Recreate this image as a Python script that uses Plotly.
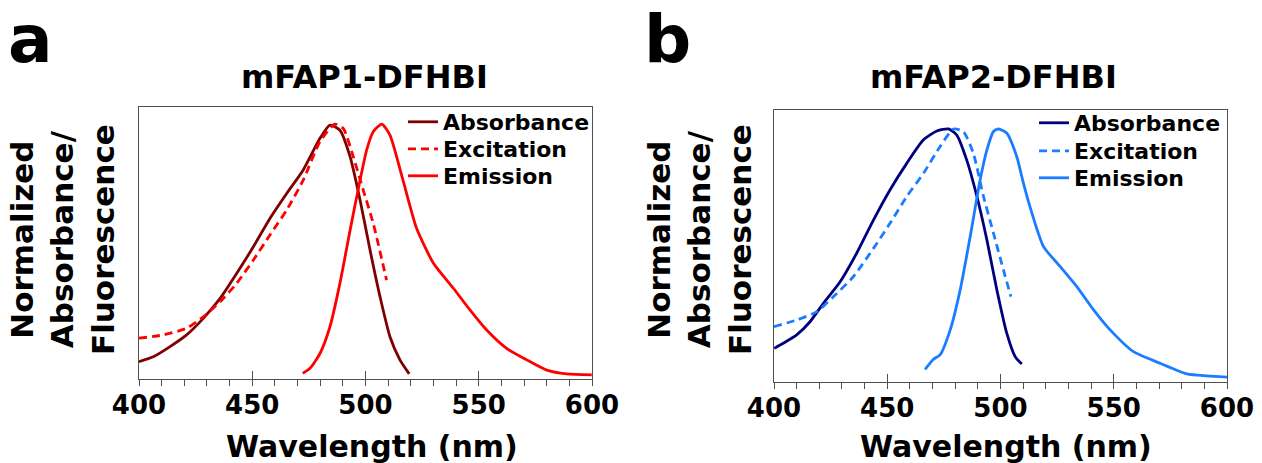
import plotly.graph_objects as go

# ---------------- data ----------------
a_abs_wl = [400, 406.3, 413.7, 421, 428.4, 435.8, 443.1, 450.5, 457.8, 465.2, 472.5, 479.9,
            484.3, 488.7, 493.2, 497.6, 502, 506.4, 510.8, 515.2, 519.3]
a_abs_val = [0.068, 0.087, 0.127, 0.173, 0.238, 0.316, 0.414, 0.519, 0.630, 0.728, 0.82, 0.944,
             0.996, 0.976, 0.872, 0.702, 0.506, 0.323, 0.166, 0.075, 0.02]

a_exc_wl = [400, 410.7, 421, 428.4, 435.8, 443.1, 450.5, 457.8, 465.2, 472.5, 479.9, 486.5,
            490.2, 494.6, 499, 503.4, 509.3]
a_exc_val = [0.16, 0.173, 0.199, 0.244, 0.303, 0.375, 0.467, 0.565, 0.663, 0.78, 0.931, 1.0,
             0.983, 0.872, 0.741, 0.611, 0.388]

a_emi_wl = [472.3, 475.5, 479.9, 484.3, 488.7, 493.2, 497.6, 500.5, 503.4, 507.2, 510.8, 516.7,
            522.6, 530, 538.8, 546.1, 553.5, 562.3, 571.2, 580, 588.8, 599.9]
a_emi_val = [0.022, 0.042, 0.1, 0.205, 0.375, 0.584, 0.78, 0.898, 0.97, 1.0, 0.957, 0.775,
             0.59, 0.454, 0.356, 0.271, 0.192, 0.12, 0.075, 0.035, 0.02, 0.016]

b_abs_wl = [400.1, 404.1, 410, 415.9, 421.8, 429.2, 436.5, 443.9, 451.2, 458.6, 466, 471.9,
            477, 480.7, 485.1, 489.6, 494, 498.4, 502.8, 506.5, 509.4]
b_abs_val = [0.133, 0.153, 0.186, 0.238, 0.311, 0.396, 0.509, 0.64, 0.759, 0.864, 0.957, 0.992,
             1.0, 0.976, 0.877, 0.733, 0.561, 0.364, 0.192, 0.1, 0.071]

b_exc_wl = [400, 410, 418.9, 426.2, 435, 443.9, 451.2, 458.6, 466, 473.3, 479.2, 483.6,
            488, 492.5, 496.9, 501.3, 504.6]
b_exc_val = [0.219, 0.245, 0.278, 0.337, 0.416, 0.528, 0.627, 0.733, 0.825, 0.93, 1.0, 0.99,
             0.904, 0.733, 0.588, 0.443, 0.337]

b_emi_wl = [466.7, 470.4, 473.3, 477.8, 482.2, 486.6, 491, 494, 496.9, 499.1, 502.8, 507.2,
            510, 513.1, 519, 526.4, 533.7, 541.1, 548.4, 558.7, 570.5, 582.3, 591.2, 600]
b_emi_val = [0.05, 0.09, 0.107, 0.206, 0.364, 0.574, 0.798, 0.917, 0.99, 1.0, 0.983, 0.89,
             0.79, 0.69, 0.535, 0.456, 0.377, 0.285, 0.206, 0.12, 0.074, 0.032, 0.024, 0.019]

series_names = ["Absorbance", "Excitation", "Emission"]
panel_titles = ["mFAP1-DFHBI", "mFAP2-DFHBI"]
panel_letters = ["a", "b"]
x_title = "Wavelength (nm)"
y_title = "Normalized<br>Absorbance/<br>Fluorescence"
minor_tickvals = list(range(400, 601, 10))
major_tickvals = [400, 450, 500, 550, 600]
tick_text = [str(v) if v in major_tickvals else "" for v in minor_tickvals]

# ---------------- styling ----------------
W, H = 1262, 463
FONT = "DejaVu Sans"
colors_a = ["#800000", "#FF0000", "#FF0000"]
colors_b = ["#00007F", "#1A7DFF", "#1A7DFF"]
LW = 2.8
DASH = "8px,5px"

def px_x(p):
    return p / W

def px_y(p):
    return 1 - p / H

dom_a_x = [px_x(139), px_x(592)]
dom_a_y = [px_y(379), px_y(107)]
dom_b_x = [px_x(774), px_x(1227)]
dom_b_y = [px_y(382), px_y(110)]

# one legend per entry so rows can be spaced like the reference
legend_rows_a = [122, 149, 176]
legend_rows_b = [123, 151, 178]
legend_left_a = 403
legend_left_b = 1034

fig = go.Figure()

def add_panel(wls, vals, colors, xa, ya, legend_ids):
    for i, (w, v) in enumerate(zip(wls, vals)):
        fig.add_trace(go.Scatter(
            x=w, y=v, mode="lines", name=series_names[i],
            line=dict(color=colors[i], width=LW, dash=DASH if i == 1 else "solid",
                      shape="spline", smoothing=0.6),
            xaxis=xa, yaxis=ya, legend=legend_ids[i], hoverinfo="skip"))

add_panel([a_abs_wl, a_exc_wl, a_emi_wl], [a_abs_val, a_exc_val, a_emi_val], colors_a, "x", "y",
          ["legend", "legend2", "legend3"])
add_panel([b_abs_wl, b_exc_wl, b_emi_wl], [b_abs_val, b_exc_val, b_emi_val], colors_b, "x2", "y2",
          ["legend4", "legend5", "legend6"])

# empty traces so the overlay tick axes are drawn
fig.add_trace(go.Scatter(x=[], y=[], xaxis="x3", yaxis="y", showlegend=False))
fig.add_trace(go.Scatter(x=[], y=[], xaxis="x4", yaxis="y2", showlegend=False))

frame = dict(showline=True, linecolor="#505050", linewidth=1, mirror=True,
             showgrid=False, zeroline=False, automargin=False)

xcommon = dict(range=[400, 600], tickmode="array", tickvals=minor_tickvals, ticktext=tick_text,
               ticks="outside", ticklen=6, tickwidth=1, tickcolor="#505050", ticklabelstandoff=-3,
               tickfont=dict(family=FONT, size=26, color="black", weight="bold"), **frame)
ycommon = dict(showticklabels=False, ticks="", **frame)

overlay = dict(range=[400, 600], tickmode="array", tickvals=major_tickvals, ticks="inside",
               ticklen=8, tickwidth=1, tickcolor="#505050", showticklabels=False,
               showline=False, showgrid=False, zeroline=False)

legend_common = dict(font=dict(family=FONT, size=22, color="black", weight="bold"),
                     bgcolor="rgba(0,0,0,0)", borderwidth=0, xanchor="left", yanchor="middle",
                     tracegroupgap=0, itemwidth=30)

legends = {}
for k, ry in enumerate(legend_rows_a):
    legends["legend" if k == 0 else f"legend{k + 1}"] = dict(x=px_x(legend_left_a), y=px_y(ry), **legend_common)
for k, ry in enumerate(legend_rows_b):
    legends[f"legend{k + 4}"] = dict(x=px_x(legend_left_b), y=px_y(ry), **legend_common)

fig.update_layout(
    width=W, height=H, margin=dict(l=0, r=0, t=0, b=0, autoexpand=False),
    paper_bgcolor="white", plot_bgcolor="white",
    xaxis=dict(domain=dom_a_x, anchor="y", **xcommon),
    yaxis=dict(domain=dom_a_y, anchor="x", range=[0, 1.067], **ycommon),
    xaxis2=dict(domain=dom_b_x, anchor="y2", **xcommon),
    yaxis2=dict(domain=dom_b_y, anchor="x2", range=[0, 1.075], **ycommon),
    xaxis3=dict(overlaying="x", anchor="y", **overlay),
    xaxis4=dict(overlaying="x2", anchor="y2", **overlay),
    showlegend=True,
    **legends,
)

ann_font = lambda s: dict(family=FONT, size=s, color="black", weight="bold")
annotations = []
for i, (cx, ycx, xtx, lx) in enumerate([(364.5, 62, 372, 30.5), (993.5, 699, 1006, 667)]):
    annotations.append(dict(text=panel_titles[i], x=px_x(cx), y=px_y(77), xref="paper", yref="paper",
                            showarrow=False, xanchor="center", yanchor="middle", font=ann_font(32)))
    annotations.append(dict(text=panel_letters[i], x=px_x(lx), y=px_y(40), xref="paper", yref="paper",
                            showarrow=False, xanchor="center", yanchor="middle", font=ann_font(66)))
    annotations.append(dict(text=y_title, x=px_x(ycx), y=px_y(240), xref="paper", yref="paper",
                            showarrow=False, xanchor="center", yanchor="middle", textangle=-90,
                            font=ann_font(31)))
    annotations.append(dict(text=x_title, x=px_x(xtx), y=px_y(446), xref="paper", yref="paper",
                            showarrow=False, xanchor="center", yanchor="middle", font=ann_font(30)))
fig.update_layout(annotations=annotations)

fig.write_html("out.html")
